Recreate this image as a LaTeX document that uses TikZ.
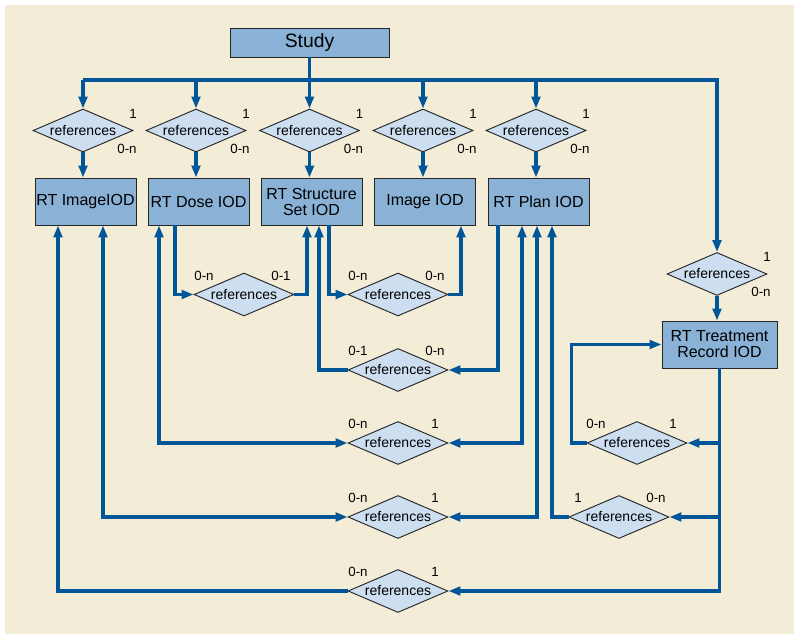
\documentclass[tikz,border=0pt]{standalone}
\usepackage{fontspec}
\setmainfont{Liberation Sans}
\usepackage{tikz}
\usetikzlibrary{calc,shapes.geometric,arrows.meta}

\definecolor{paper}{RGB}{243,236,214}
\definecolor{boxblue}{RGB}{138,178,214}
\definecolor{relblue}{RGB}{204,222,240}
\definecolor{wireblue}{RGB}{0,86,152}

\tikzset{
  iod/.style={draw=black!85, fill=boxblue, rectangle, minimum width=75.75pt, minimum height=35.25pt, inner sep=1pt, align=center, font=\fontsize{12}{12}\selectfont},
  rel/.style={draw=black!85, fill=relblue, diamond, aspect=2.33, inner sep=0pt, minimum width=75pt, minimum height=32.25pt, font=\fontsize{10.5}{12}\selectfont},
  card/.style={inner sep=0pt, font=\fontsize{10}{11}\selectfont},
  wire/.style={draw=wireblue, line width=2.3pt, >={Triangle[length=9pt,width=6.5pt]}},
}

\begin{document}
\begin{tikzpicture}[x=0.75pt, y=-0.75pt, line width=0.7pt]

            % Background
            \useasboundingbox (0,0) rectangle (794,634);
            \fill[white] (0,0) rectangle (794,634);
            \fill[paper] (5,5) rectangle (794,634);

            % Study block
            \node[iod, minimum width=119.25pt, minimum height=21.75pt, font=\fontsize{14.5}{16}\selectfont] (study) at (309.5,42.5) {Study};
            \coordinate (bus) at (0,80);

            % First row of relations
            \node[rel] (refimg) at (83,130.5) {references};
            \node[rel] (refdose) at (196,130.5) {references};
            \node[rel] (refstruct) at (309.5,130.5) {references};
            \node[rel] (refimage) at (423,130.5) {references};
            \node[rel] (refplan) at (536,130.5) {references};
            \node[rel] (reftreat) at (717,274) {references};

            % IOD blocks
            \node[iod] (rtimage) at (85.5,201.5) {RT ImageIOD};
            \node[iod] (rtdose) at (198.5,201.5) {RT Dose IOD};
            \node[iod] (rtstruct) at (311.5,201.5) {RT Structure\\Set IOD};
            \node[iod] (image) at (425,201.5) {Image IOD};
            \node[iod] (rtplan) at (538.5,201.5) {RT Plan IOD};
            \node[iod, minimum width=86.25pt] (rttreat) at (719.5,344.5) {RT Treatment\\Record IOD};

            % Relations between the IODs
            \node[rel] (dsref) at (244,294.5) {references};
            \node[rel] (siref) at (398,294.5) {references};
            \node[rel] (psref) at (398,370) {references};
            \node[rel] (pdref) at (398,443) {references};
            \node[rel] (piref) at (398,517) {references};
            \node[rel] (tiref) at (398,591) {references};
            \node[rel] (ttref) at (637,443) {references};
            \node[rel] (tpref) at (619,517) {references};

            % Study bus
            \draw[wire,->] (study.south) -- (refstruct.north);
            \draw[wire,->] (refimg.north |- bus) -| (reftreat.north);
            \foreach \d in {refimg,refdose,refimage,refplan}
              \draw[wire,->] (\d.north |- bus) -- (\d.north);

            % Relation to IOD arrows
            \draw[wire,->] (refimg.south) -- (refimg.south |- rtimage.north);
            \draw[wire,->] (refdose.south) -- (refdose.south |- rtdose.north);
            \draw[wire,->] (refstruct.south) -- (refstruct.south |- rtstruct.north);
            \draw[wire,->] (refimage.south) -- (refimage.south |- image.north);
            \draw[wire,->] (refplan.south) -- (refplan.south |- rtplan.north);
            \draw[wire,->] (reftreat.south) -- (reftreat.south |- rttreat.north);

            % Ends at the bottom of the blocks
            \coordinate (imgA) at ($(rtimage.south)+(-27.5,0)$);
            \coordinate (imgB) at ($(rtimage.south)+(17.5,0)$);
            \coordinate (doseA) at ($(rtdose.south)+(-39.5,0)$);
            \coordinate (doseB) at ($(rtdose.south)+(-23.5,0)$);
            \coordinate (structA) at ($(rtstruct.south)+(-4.5,0)$);
            \coordinate (structB) at ($(rtstruct.south)+(7.5,0)$);
            \coordinate (structC) at ($(rtstruct.south)+(17.5,0)$);
            \coordinate (imageA) at ($(image.south)+(36,0)$);
            \coordinate (planA) at ($(rtplan.south)+(-40.5,0)$);
            \coordinate (planB) at ($(rtplan.south)+(-16.5,0)$);
            \coordinate (planC) at ($(rtplan.south)+(-1.5,0)$);
            \coordinate (planD) at ($(rtplan.south)+(13.5,0)$);
            \coordinate (treatturn) at ($(rttreat.west)+(-90,0)$);

            % Connectors
            \draw[wire,->] (doseB) |- (dsref.west);
            \draw[wire,->] (dsref.east) -| (structA);
            \draw[wire,->] (structC) |- (siref.west);
            \draw[wire,->] (siref.east) -| (imageA);
            \draw[wire,->] (planA) |- (psref.east);
            \draw[wire,->] (psref.west) -| (structB);
            \draw[wire,<->] (doseA) |- (pdref.west);
            \draw[wire,<->] (planB) |- (pdref.east);
            \draw[wire,<->] (imgB) |- (piref.west);
            \draw[wire,<->] (planC) |- (piref.east);
            \draw[wire,->] (tiref.west) -| (imgA);
            \draw[wire,->] (rttreat.south) |- (tiref.east);
            \draw[wire,->] (rttreat.south |- ttref.east) -- (ttref.east);
            \draw[wire,->] (rttreat.south |- tpref.east) -- (tpref.east);
            \draw[wire,->] (ttref.west) -| (treatturn) -- (rttreat.west);
            \draw[wire,->] (tpref.west) -| (planD);

            % Cardinalities
            \foreach \d in {refimg,refdose,refstruct,refimage,refplan,reftreat} {
              \node[card] (\d-one) at ($(\d)+(50,-17)$) {1};
              \node[card] (\d-many) at ($(\d)+(44,18)$) {0-n};
            }
            \node[card] (dsref-l) at ($(dsref)+(-40,-19)$) {0-n};
            \node[card] (dsref-r) at ($(dsref)+(37,-19)$) {0-1};
            \node[card] (siref-l) at ($(siref)+(-40,-19)$) {0-n};
            \node[card] (siref-r) at ($(siref)+(37,-19)$) {0-n};
            \node[card] (psref-l) at ($(psref)+(-40,-19)$) {0-1};
            \node[card] (psref-r) at ($(psref)+(37,-19)$) {0-n};
            \node[card] (pdref-l) at ($(pdref)+(-40,-19)$) {0-n};
            \node[card] (pdref-r) at ($(pdref)+(37,-19)$) {1};
            \node[card] (piref-l) at ($(piref)+(-40,-19)$) {0-n};
            \node[card] (piref-r) at ($(piref)+(37,-19)$) {1};
            \node[card] (tiref-l) at ($(tiref)+(-40,-19)$) {0-n};
            \node[card] (tiref-r) at ($(tiref)+(37,-19)$) {1};
            \node[card] (ttref-l) at ($(ttref)+(-41,-19)$) {0-n};
            \node[card] (ttref-r) at ($(ttref)+(36,-19)$) {1};
            \node[card] (tpref-l) at ($(tpref)+(-41,-19)$) {1};
            \node[card] (tpref-r) at ($(tpref)+(37,-19)$) {0-n};
\end{tikzpicture}
\end{document}
